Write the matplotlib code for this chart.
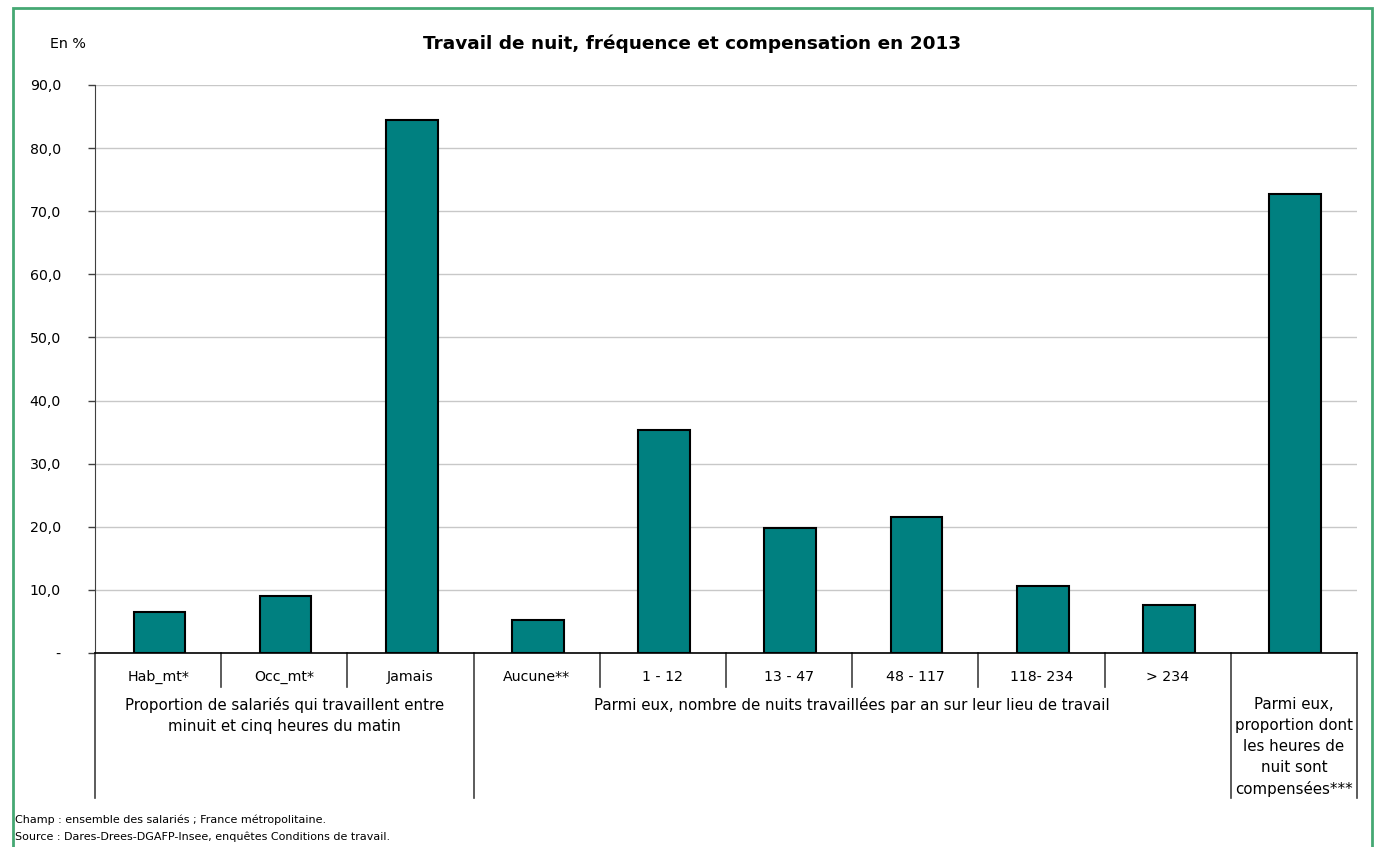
import matplotlib.pyplot as plt
from matplotlib.patches import Rectangle
from matplotlib.ticker import FuncFormatter

# categories and values (en %)
categories = ["Hab_mt*", "Occ_mt*", "Jamais", "Aucune**", "1 - 12", "13 - 47",
              "48 - 117", "118- 234", "> 234", ""]
values = [6.5, 9.0, 84.5, 5.2, 35.3, 19.8, 21.5, 10.6, 7.6, 72.7]

# groups: (first index, last index, label)
group_starts = [0, 3, 9]
group_ends = [2, 8, 9]
group_labels = [
    "Proportion de salariés qui travaillent entre\nminuit et cinq heures du matin",
    "Parmi eux, nombre de nuits travaillées par an sur leur lieu de travail",
    "Parmi eux,\nproportion dont\nles heures de\nnuit sont\ncompensées***",
]

title = "Travail de nuit, fréquence et compensation en 2013"
unit = "En %"
notes = ["Champ : ensemble des salariés ; France métropolitaine.",
         "Source : Dares-Drees-DGAFP-Insee, enquêtes Conditions de travail."]

plt.rcParams['font.family'] = ['DejaVu Sans']

fig = plt.figure(figsize=(13.75, 8.47), dpi=100)
ax = fig.add_axes([0.0691, 0.229, 0.9178, 0.6707])

x = list(range(len(categories)))
ax.bar([i + 0.01 for i in x], values, width=0.41, color='#008080', edgecolor='black',
       linewidth=1.5, zorder=3)

ax.set_xlim(-0.5, len(categories) - 0.5)
ax.set_ylim(0, 90)
ax.set_yticks(range(0, 91, 10))
ax.yaxis.set_major_formatter(FuncFormatter(lambda v, p: "-" if v == 0 else f"{v:.1f}".replace(".", ",")))
ax.tick_params(axis='y', labelsize=10.2, length=5, width=1, color='#404040', pad=19.5)
for lab in ax.get_yticklabels():
    lab.set_horizontalalignment('right')
ax.set_xticks([])
ax.grid(axis='y', color='#c8c8c8', linewidth=1, zorder=0)

for s in ['top', 'right']:
    ax.spines[s].set_visible(False)
ax.spines['left'].set_color('#404040')
ax.spines['bottom'].set_color('black')
ax.spines['bottom'].set_linewidth(1.2)

tr = ax.get_xaxis_transform()

# category labels and separators
for i, c in enumerate(categories):
    ax.text(i, -0.042, c, transform=tr, ha='center', va='center', fontsize=10.2)
for i in range(len(categories) + 1):
    b = i - 0.5
    long_line = (i in group_starts) or (i == len(categories))
    y_end = -0.255 if long_line else -0.06
    ax.plot([b, b], [0, y_end], transform=tr, color='#404040', lw=1.2, clip_on=False)

# group labels
for s, e, lab in zip(group_starts, group_ends, group_labels):
    ax.text((s + e) / 2, -0.077, lab, transform=tr, ha='center', va='top',
            fontsize=10.8, linespacing=1.5)

fig.text(0.503, 0.948, title, ha='center', va='center', fontsize=13.3, fontweight='bold')
fig.text(0.0495, 0.948, unit, ha='center', va='center', fontsize=10.3)
fig.text(0.011, 1 - 820 / 847, notes[0], ha='left', va='center', fontsize=8)
fig.text(0.011, 1 - 837 / 847, notes[1], ha='left', va='center', fontsize=8)

# green frame
fig.patches.append(Rectangle((13 / 1375, -0.01), (1372 - 13) / 1375, 1 - 8 / 847 + 0.01,
                             transform=fig.transFigure, fill=False,
                             edgecolor='#45a873', linewidth=2))

fig.savefig('out.png', dpi=100)
